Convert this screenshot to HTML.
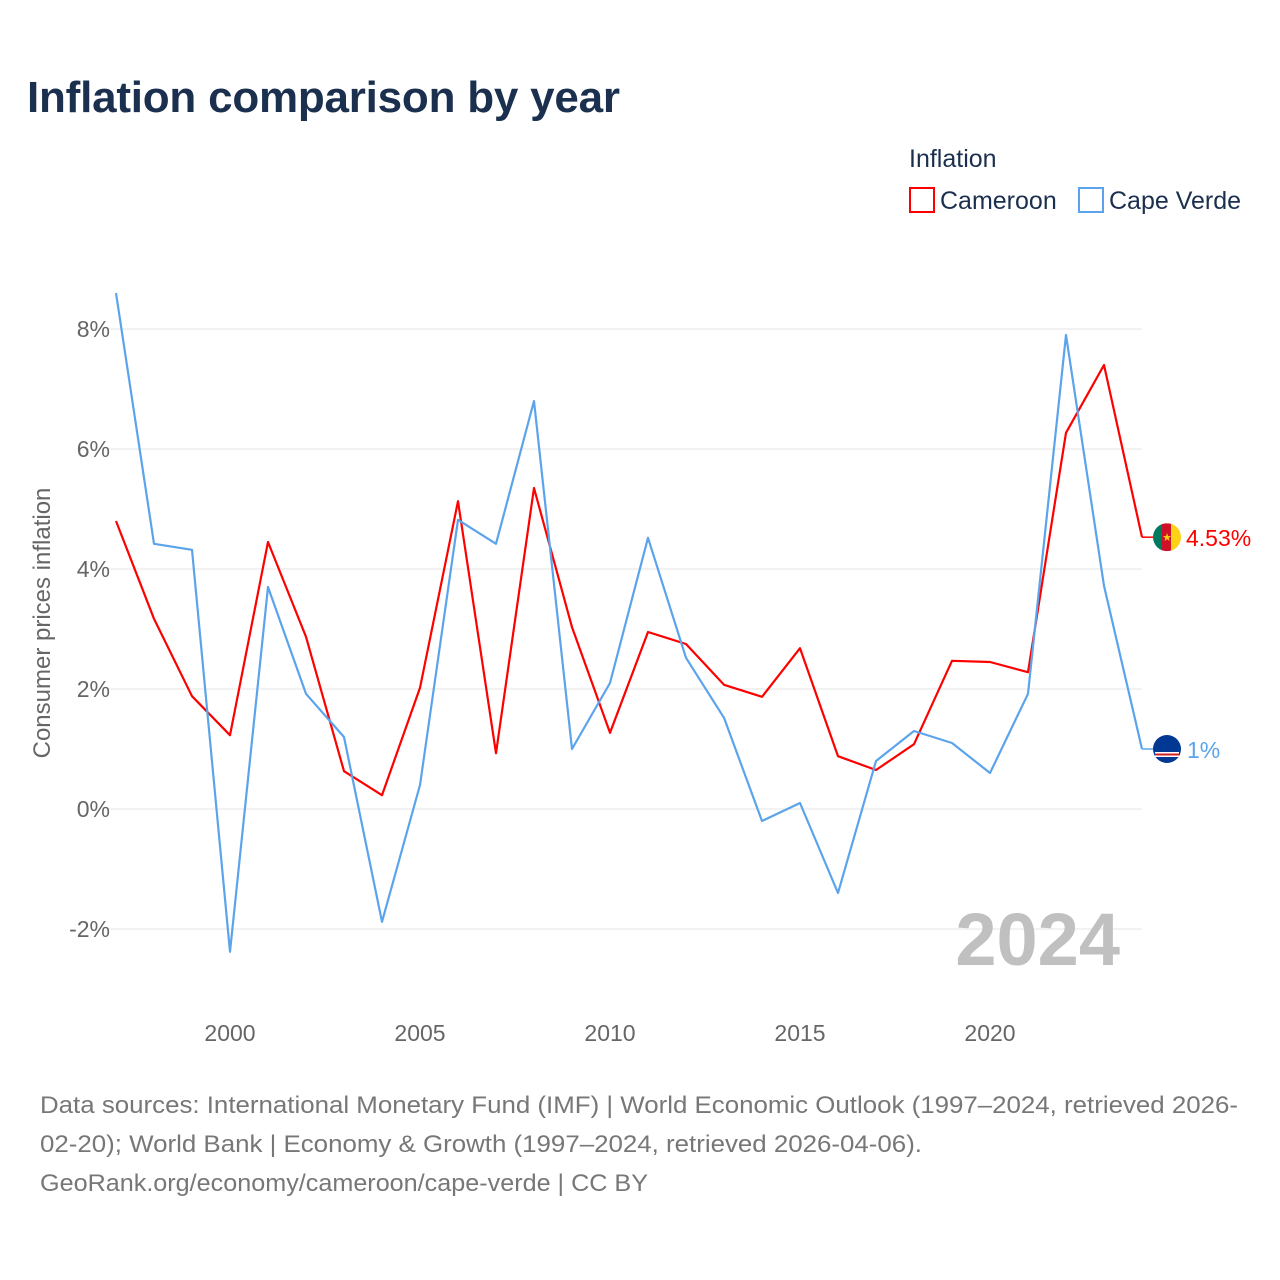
<!DOCTYPE html>
<html><head><meta charset="utf-8">
<style>
body{margin:0;background:#fff;font-family:"Liberation Sans",sans-serif;}
#wrap{position:relative;width:1280px;height:1280px;overflow:hidden;}
</style></head>
<body>
<div id="wrap">
<svg id="chart" width="1280" height="1280" font-family="Liberation Sans, sans-serif">
<text x="27" y="112" font-size="44" font-weight="bold" fill="#1b2f4e" textLength="593">Inflation comparison by year</text>
<g>
<text x="909" y="167" font-size="25" fill="#1b2f4e">Inflation</text>
<g><rect x="910" y="188" width="24" height="24" fill="none" stroke="#ff0000" stroke-width="2"/><text x="940" y="209" font-size="25" fill="#1b2f4e">Cameroon</text></g>
<g><rect x="1079" y="188" width="24" height="24" fill="none" stroke="#5ba4ec" stroke-width="2"/><text x="1109" y="209" font-size="25" fill="#1b2f4e">Cape Verde</text></g>
</g>
<g id="grid"></g>
<g id="xticks"></g>
<g id="series"></g>
<text x="1120" y="965" text-anchor="end" font-size="74" font-weight="bold" fill="#c0c0c0">2024</text>
<text transform="translate(50,623) rotate(-90)" text-anchor="middle" font-size="24" fill="#666">Consumer prices inflation</text>
<g font-size="24" fill="#777">
<text x="40" y="1113" textLength="1198" lengthAdjust="spacingAndGlyphs">Data sources: International Monetary Fund (IMF) | World Economic Outlook (1997–2024, retrieved 2026-</text>
<text x="40" y="1152" textLength="882" lengthAdjust="spacingAndGlyphs">02-20); World Bank | Economy &amp; Growth (1997–2024, retrieved 2026-04-06).</text>
<text x="40" y="1191" textLength="608" lengthAdjust="spacingAndGlyphs">GeoRank.org/economy/cameroon/cape-verde | CC BY</text>
</g>
</svg>
</div>
<script>
const years=[1997,1998,1999,2000,2001,2002,2003,2004,2005,2006,2007,2008,2009,2010,2011,2012,2013,2014,2015,2016,2017,2018,2019,2020,2021,2022,2023,2024];
const cameroon=[4.8,3.17,1.88,1.23,4.45,2.87,0.63,0.23,2.02,5.13,0.93,5.35,3.03,1.27,2.95,2.75,2.07,1.87,2.68,0.88,0.65,1.08,2.47,2.45,2.28,6.27,7.4,4.53];
const capeVerde=[8.6,4.42,4.32,-2.38,3.7,1.92,1.2,-1.88,0.4,4.82,4.42,6.8,1.0,2.1,4.52,2.52,1.52,-0.2,0.1,-1.4,0.8,1.3,1.1,0.6,1.92,7.9,3.72,1.0];
const yTicks=[-2,0,2,4,6,8];
const xTicks=[2000,2005,2010,2015,2020];
const NS="http://www.w3.org/2000/svg";
const xs=y=>116+(y-1997)*38;
const ys=v=>809-v*60;
function mk(tag,attrs,parent){const e=document.createElementNS(NS,tag);for(const k in attrs)e.setAttribute(k,attrs[k]);parent.appendChild(e);return e;}
const grid=document.getElementById('grid');
yTicks.forEach(t=>{
 const l=mk('line',{x1:105,x2:1142,y1:ys(t),y2:ys(t),stroke:'#e6e6e6','stroke-width':1},grid);
 
 
 const tx=mk('text',{x:110,y:ys(t)+8,'text-anchor':'end','font-size':23,fill:'#666'},grid);
 tx.textContent=t+'%';
 
 
});
const xt=document.getElementById('xticks');
xTicks.forEach(t=>{
 const tx=mk('text',{x:xs(t),y:1041,'text-anchor':'middle','font-size':23,fill:'#666'},xt);
 tx.textContent=t;
 
 
});
const sg=document.getElementById('series');
function line(vals,color,name){
 const p=mk('polyline',{points:vals.map((v,i)=>xs(years[i])+','+ys(v)).join(' '),fill:'none',stroke:color,'stroke-width':2.2,'stroke-linejoin':'round'},sg);
 
 
 const last=vals[vals.length-1],y=ys(last);
 const c=mk('line',{x1:1142,x2:1153,y1:y,y2:y,stroke:color,'stroke-width':1.5},sg);
 
 
 return y;
}
const y1=line(cameroon,'#ff0000','cameroon');
const y2=line(capeVerde,'#5ba4ec','cape-verde');
let g=mk('g',{},sg);


const clip=mk('clipPath',{id:'c1'},g);
mk('circle',{cx:1167,cy:y1,r:14},clip);
const fg=mk('g',{'clip-path':'url(#c1)'},g);
mk('rect',{x:1153,y:y1-14,width:10,height:28,fill:'#007a5e'},fg);
mk('rect',{x:1162,y:y1-14,width:10,height:28,fill:'#ce1126'},fg);
mk('rect',{x:1171,y:y1-14,width:10,height:28,fill:'#fcd116'},fg);
mk('text',{x:1167,y:y1+4,'text-anchor':'middle','font-size':11,fill:'#fcd116'},fg).textContent='★';
let lt=mk('text',{x:1186,y:y1+9,'font-size':23,fill:'#ff0000'},sg);lt.textContent='4.53%';


g=mk('g',{},sg);


mk('circle',{cx:1167,cy:y2,r:14,fill:'#003893'},g);
mk('rect',{x:1155,y:y2+3,width:24,height:5,fill:'#fff'},g);
mk('rect',{x:1155,y:y2+4.5,width:24,height:2,fill:'#cf2027'},g);
lt=mk('text',{x:1187,y:y2+9,'font-size':23,fill:'#5ba4ec'},sg);lt.textContent='1%';


</script>
</body></html>
